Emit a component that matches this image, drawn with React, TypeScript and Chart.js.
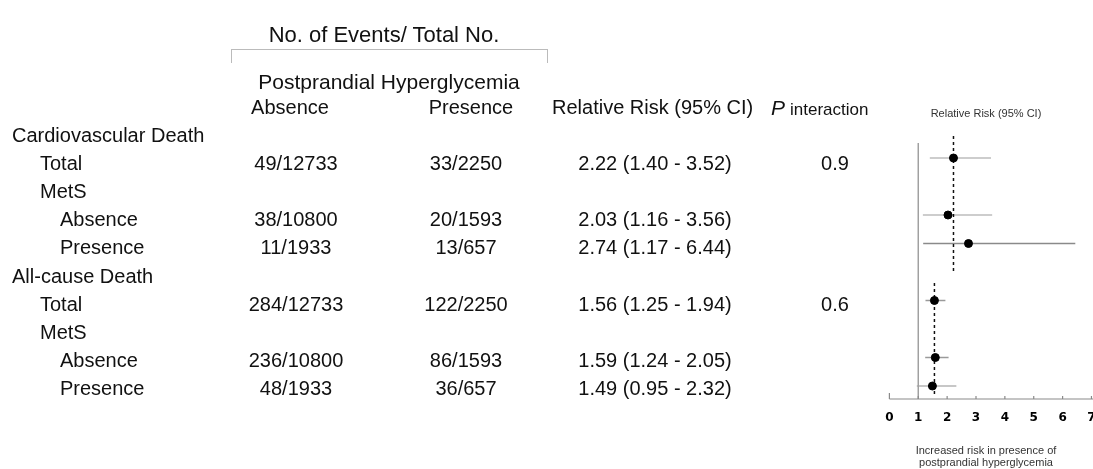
import React, { useEffect, useRef } from "react";
import { Chart, registerables } from "chart.js";

Chart.register(...registerables);

// ---- data ----
const rowLabels = [
  "Cardiovascular Death",
  "Total",
  "MetS",
  "Absence",
  "Presence",
  "All-cause Death",
  "Total",
  "MetS",
  "Absence",
  "Presence",
];
const rowLevels = [0, 1, 1, 2, 2, 0, 1, 1, 2, 2];
const absenceCounts = ["", "49/12733", "", "38/10800", "11/1933", "", "284/12733", "", "236/10800", "48/1933"];
const presenceCounts = ["", "33/2250", "", "20/1593", "13/657", "", "122/2250", "", "86/1593", "36/657"];
const relativeRisk: (number | null)[] = [null, 2.22, null, 2.03, 2.74, null, 1.56, null, 1.59, 1.49];
const ciLower: (number | null)[] = [null, 1.4, null, 1.16, 1.17, null, 1.25, null, 1.24, 0.95];
const ciUpper: (number | null)[] = [null, 3.52, null, 3.56, 6.44, null, 1.94, null, 2.05, 2.32];
const pInteraction = ["", "0.9", "", "", "", "", "0.6", "", "", ""];
const xTickLabels = [0, 1, 2, 3, 4, 5, 6, 7];
const referenceValue = 1;
const cvPooledRR = 2.22;
const allCausePooledRR = 1.56;

// ---- styles ----
const FONT = '"Liberation Sans", Arial, Helvetica, sans-serif';
const TEXT_COLOR = "#111";
const ciColors = ["", "#bdbdbd", "", "#bdbdbd", "#8a8a8a", "", "#9a9a9a", "", "#9a9a9a", "#b5b5b5"];

const TEXT_ROW0 = 135;
const TEXT_ROW_STEP = 28.1;
const levelX = [12, 40, 60];

function fmt(v: number) {
  return v.toFixed(2);
}

export default function App() {
  const canvasRef = useRef<HTMLCanvasElement | null>(null);

  useEffect(() => {
    document.body.style.margin = "0";
    const canvas = canvasRef.current;
    if (!canvas) return;

    const datasets: any[] = [];
    // point estimates (drawn on top)
    datasets.push({
      type: "scatter",
      order: 0,
      data: relativeRisk
        .map((v, i) => (v == null ? null : { x: v, y: i }))
        .filter((p) => p !== null),
      backgroundColor: "#000",
      borderColor: "#000",
      pointRadius: 4,
      pointHoverRadius: 4,
    });
    // reference line at RR = 1
    datasets.push({
      type: "line",
      order: 2,
      data: [
        { x: referenceValue, y: 0.47 },
        { x: referenceValue, y: 9.456 },
      ],
      borderColor: "#a0a0a0",
      borderWidth: 1.5,
      pointRadius: 0,
    });
    // pooled dashed lines
    datasets.push({
      type: "line",
      order: 1,
      data: [
        { x: cvPooledRR, y: 0.23 },
        { x: cvPooledRR, y: 5.0 },
      ],
      borderColor: "#111",
      borderWidth: 1.5,
      borderDash: [3, 3],
      pointRadius: 0,
    });
    datasets.push({
      type: "line",
      order: 1,
      data: [
        { x: allCausePooledRR, y: 5.39 },
        { x: allCausePooledRR, y: 9.39 },
      ],
      borderColor: "#111",
      borderWidth: 1.5,
      borderDash: [3, 3],
      pointRadius: 0,
    });
    // CI lines
    relativeRisk.forEach((v, i) => {
      if (v == null) return;
      datasets.push({
        type: "line",
        order: 2,
        data: [
          { x: ciLower[i], y: i },
          { x: ciUpper[i], y: i },
        ],
        borderColor: ciColors[i],
        borderWidth: 1.5,
        pointRadius: 0,
      });
    });

    const axisPlugin = {
      id: "forestAxis",
      afterDatasetsDraw(chart: any) {
        const ctx = chart.ctx;
        const xs = chart.scales.x;
        const ys = chart.scales.y;
        const yAxis = ys.getPixelForValue(9.456);
        ctx.save();
        ctx.strokeStyle = "#8a8a8a";
        ctx.lineWidth = 1.2;
        ctx.beginPath();
        ctx.moveTo(xs.getPixelForValue(0), yAxis);
        ctx.lineTo(chart.width, yAxis);
        ctx.stroke();
        xTickLabels.forEach((t) => {
          const px = xs.getPixelForValue(t);
          ctx.beginPath();
          ctx.moveTo(px, yAxis);
          ctx.lineTo(px, yAxis - (t === 0 ? 6 : 3));
          ctx.stroke();
        });
        ctx.fillStyle = "#000";
        ctx.font = 'bold 12px "DejaVu Sans", sans-serif';
        ctx.textAlign = "center";
        ctx.textBaseline = "middle";
        xTickLabels.forEach((t) => {
          ctx.fillText(String(t), xs.getPixelForValue(t), 418);
        });
        ctx.restore();
      },
    };

    const chart = new Chart(canvas, {
      type: "scatter",
      data: { datasets },
      options: {
        animation: false,
        responsive: false,
        maintainAspectRatio: false,
        layout: { padding: { left: 889.4, right: 0, top: 129.5, bottom: 70 } },
        plugins: { legend: { display: false }, tooltip: { enabled: false } },
        scales: {
          x: { type: "linear", min: 0, max: 6.88, display: false },
          y: { type: "linear", min: 0, max: 9.456, reverse: true, display: false },
        },
      },
      plugins: [axisPlugin],
    } as any);

    return () => chart.destroy();
  }, []);

  const abs = (extra: React.CSSProperties): React.CSSProperties => ({
    position: "absolute",
    whiteSpace: "nowrap",
    lineHeight: 1,
    fontFamily: FONT,
    color: TEXT_COLOR,
    fontSize: 20,
    ...extra,
  });
  const center = (x: number, y: number, extra: React.CSSProperties = {}) =>
    abs({ left: x, top: y, transform: "translate(-50%, -50%)", ...extra });
  const leftAt = (x: number, y: number, extra: React.CSSProperties = {}) =>
    abs({ left: x, top: y, transform: "translateY(-50%)", ...extra });

  return (
    <div style={{ position: "relative", width: 1093, height: 469, background: "#fff", overflow: "hidden" }}>
      <canvas ref={canvasRef} width={1093} height={469} style={{ position: "absolute", left: 0, top: 0 }} />

      <div style={center(384, 35, { fontSize: 22 })}>No. of Events/ Total No.</div>
      <div
        style={{
          position: "absolute",
          left: 231,
          top: 49,
          width: 317,
          height: 14,
          borderTop: "1.5px solid #bbb",
          borderLeft: "1.5px solid #bbb",
          borderRight: "1.5px solid #bbb",
          boxSizing: "border-box",
        }}
      />
      <div style={center(389, 81, { fontSize: 21 })}>Postprandial Hyperglycemia</div>
      <div style={center(290, 107)}>Absence</div>
      <div style={center(471, 107)}>Presence</div>
      <div style={leftAt(552, 107)}>Relative Risk (95% CI)</div>
      <div style={leftAt(771, 107, { fontStyle: "italic", fontSize: 21 })}>P</div>
      <div style={leftAt(790, 109, { fontSize: 17 })}>interaction</div>

      <div style={center(986, 113, { fontSize: 11, color: "#333" })}>Relative Risk (95% CI)</div>
      <div style={center(986, 450, { fontSize: 11, color: "#333" })}>Increased risk in presence of</div>
      <div style={center(986, 462, { fontSize: 11, color: "#333" })}>postprandial hyperglycemia</div>

      {rowLabels.map((label, i) => {
        const y = TEXT_ROW0 + i * TEXT_ROW_STEP;
        const r = relativeRisk[i];
        return (
          <React.Fragment key={i}>
            <div style={leftAt(levelX[rowLevels[i]], y)}>{label}</div>
            {absenceCounts[i] && <div style={center(296, y)}>{absenceCounts[i]}</div>}
            {presenceCounts[i] && <div style={center(466, y)}>{presenceCounts[i]}</div>}
            {r != null && (
              <div style={center(655, y)}>{`${fmt(r)} (${fmt(ciLower[i] as number)} - ${fmt(ciUpper[i] as number)})`}</div>
            )}
            {pInteraction[i] && <div style={center(835, y)}>{pInteraction[i]}</div>}
          </React.Fragment>
        );
      })}
    </div>
  );
}
